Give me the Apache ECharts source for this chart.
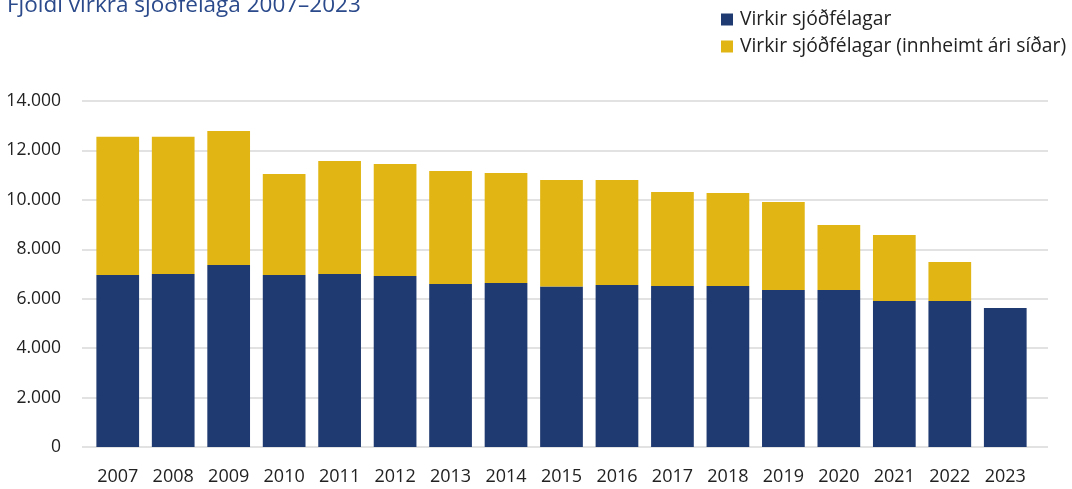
<!DOCTYPE html>
<html><head><meta charset="utf-8">
<script src="https://cdn.jsdelivr.net/npm/echarts@6/dist/echarts.min.js"></script>
<style>html,body{margin:0;padding:0;background:#fff}#c{width:1072px;height:489px}</style>
</head><body><div id="c"></div>
<script>
const years = ['2007','2008','2009','2010','2011','2012','2013','2014','2015','2016','2017','2018','2019','2020','2021','2022','2023'];
const active = [6960,7000,7365,6960,7000,6920,6600,6640,6490,6555,6515,6515,6355,6355,5910,5910,5625];
const activeLater = [5590,5550,5425,4090,4575,4530,4570,4450,4315,4250,3805,3765,3560,2630,2670,1577,0];
const seriesNames = ['Virkir sjóðfélagar','Virkir sjóðfélagar (innheimt ári síðar)'];
const titleText = 'Fjöldi virkra sjóðfélaga 2007–2023';
const yMin = 0, yMax = 14000, yStep = 2000;

const chart = echarts.init(document.getElementById('c'));
const font = 'Open Sans';
chart.setOption({
  animation:false,
  textStyle:{fontFamily:font},
  title:{text:titleText,left:2,top:-11,textStyle:{fontFamily:font,fontSize:22.5,fontWeight:'normal',color:'#2b4a8b'}},
  legend:{orient:'vertical',left:716,top:5,itemWidth:12,itemHeight:12,itemGap:8,icon:'rect',
    textStyle:{fontFamily:font,fontSize:19.3,color:'#222',padding:[0,0,0,2]},data:seriesNames},
  grid:[
    {left:82,right:24,top:101,bottom:42},
    {left:90,right:39,top:101,bottom:42}
  ],
  xAxis:[
    {gridIndex:0,type:'value',min:0,max:1,show:false},
    {gridIndex:1,type:'category',data:years,axisTick:{show:false},axisLine:{show:false},
      axisLabel:{fontSize:18,color:'#222',margin:21}}
  ],
  yAxis:[
    {gridIndex:0,type:'value',min:yMin,max:yMax,interval:yStep,
      axisLine:{show:false},axisTick:{show:false},
      axisLabel:{fontSize:17.5,color:'#222',margin:21,formatter:v=>v.toString().replace(/\B(?=(\d{3})+(?!\d))/g,'.')},
      splitLine:{lineStyle:{color:'#d9d9d9',width:1.5}}},
    {gridIndex:1,type:'value',min:yMin,max:yMax,interval:yStep,show:false,splitLine:{show:false}}
  ],
  series:[
    {name:seriesNames[0],type:'bar',stack:'a',xAxisIndex:1,yAxisIndex:1,data:active,barCategoryGap:'23%',itemStyle:{color:'#1f3a70'}},
    {name:seriesNames[1],type:'bar',stack:'a',xAxisIndex:1,yAxisIndex:1,data:activeLater,barCategoryGap:'23%',itemStyle:{color:'#e1b614'}}
  ]
});
</script></body></html>
